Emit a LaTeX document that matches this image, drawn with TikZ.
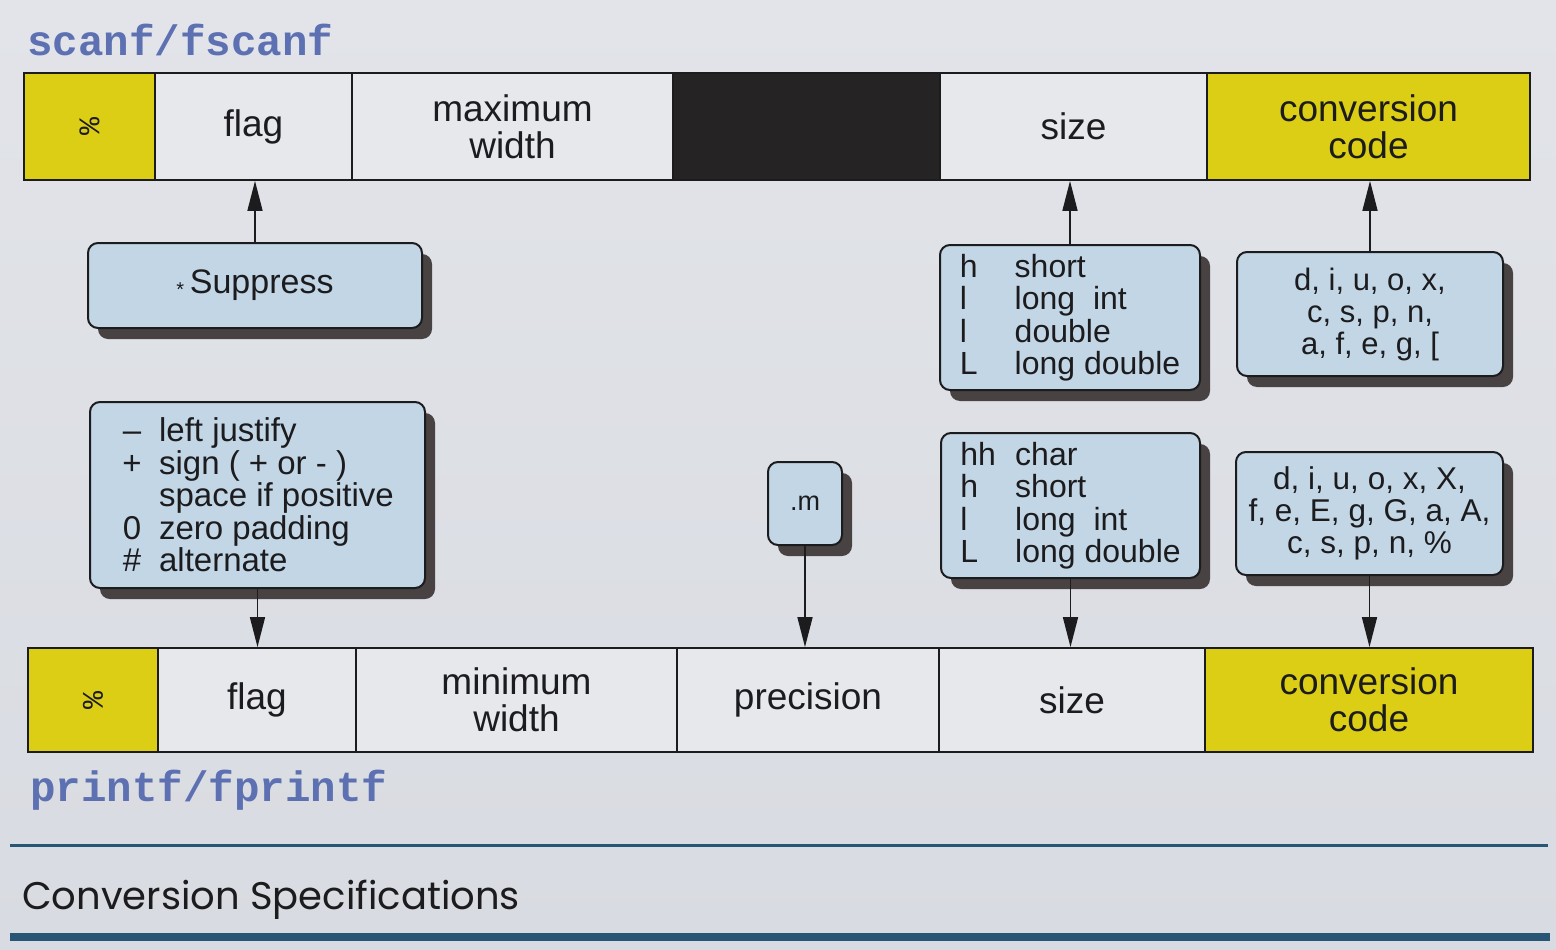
\documentclass[tikz,border=0pt]{standalone}
\usepackage{fontspec}
\setmainfont{Liberation Sans}
\newfontfamily\codefont{Liberation Mono}
\newfontfamily\titlefont{Poppins}
\usetikzlibrary{arrows.meta,shadows}

\definecolor{page}{RGB}{216,219,225}
\definecolor{pagetop}{RGB}{226,228,233}
\definecolor{cellbg}{RGB}{231,232,236}
\definecolor{hilite}{RGB}{220,206,20}
\definecolor{blackcell}{RGB}{38,35,37}
\definecolor{boxbg}{RGB}{194,214,230}
\definecolor{shade}{RGB}{72,66,66}
\definecolor{codeblue}{RGB}{92,112,178}
\definecolor{rulecol}{RGB}{40,86,116}
\definecolor{ink}{RGB}{28,28,30}

\newcommand{\pct}{{\codefont\fontsize{30}{30}\selectfont\rotatebox{90}{\%}}}
\newcommand{\lbl}[1]{\makebox[55pt][l]{#1}}
\newcommand{\sym}[1]{\makebox[22pt][c]{#1}\hspace{16pt}}

\tikzset{
  cell/.style={draw=ink, line width=1.8pt, fill=cellbg, inner sep=0pt,
    align=center, text=ink, font=\fontsize{37}{37}\selectfont},
  hicell/.style={cell, fill=hilite},
  callout/.style={draw=ink, line width=2pt, fill=boxbg, rounded corners=10pt,
    inner sep=0pt, text=ink, font=\fontsize{32}{32.5}\selectfont,
    drop shadow={shadow xshift=10pt, shadow yshift=-11pt, fill=shade, opacity=1}},
  conn/.style={draw=ink, line width=1.6pt, -{Triangle[length=30pt,width=15pt]}},
  codelabel/.style={anchor=west, inner sep=0pt, text=codeblue,
    font=\codefont\bfseries\fontsize{42.5}{42.5}\selectfont},
}

\begin{document}
\begin{tikzpicture}[x=1pt, y=-1pt]
  % page
  \useasboundingbox (0,0) rectangle (1556,950);
  \shade[top color=pagetop, bottom color=page] (0,0) rectangle (1556,950);

  % scanf/fscanf field bar
  \node[codelabel] (scanlbl) at (27,40) {scanf/fscanf};
  \node[hicell, minimum width=131pt, minimum height=107pt] (tpct)  at (89.5,126.5) {\pct};
  \node[cell,   minimum width=197pt, minimum height=107pt] (tflag) at (253.5,126.5) {flag};
  \node[cell,   minimum width=321pt, minimum height=107pt] (tmax)  at (512.5,126.5) {maximum\\width};
  \node[cell, fill=blackcell, minimum width=267pt, minimum height=107pt] (tblk) at (806.5,126.5) {};
  \node[cell,   minimum width=267pt, minimum height=107pt] (tsize) at (1073.5,126.5) {size};
  \node[hicell, minimum width=323pt, minimum height=107pt] (tconv) at (1368.5,126.5) {conversion\\code};

  % printf/fprintf field bar
  \node[hicell, minimum width=130pt, minimum height=104pt] (bpct)  at (93,700) {\pct};
  \node[cell,   minimum width=198pt, minimum height=104pt] (bflag) at (257,700) {flag};
  \node[cell,   minimum width=321pt, minimum height=104pt] (bmin)  at (516.5,700) {minimum\\width};
  \node[cell,   minimum width=262pt, minimum height=104pt] (bprec) at (808,700) {precision};
  \node[cell,   minimum width=266pt, minimum height=104pt] (bsize) at (1072,700) {size};
  \node[hicell, minimum width=328pt, minimum height=104pt] (bconv) at (1369,700) {conversion\\code};
  \node[codelabel] (printlbl) at (30,790) {printf/fprintf};

  % option boxes
  \node[callout, minimum width=334pt, minimum height=85pt, font=\fontsize{34}{34}\selectfont]
    (sup) at (255,285.5) {\raisebox{-3pt}{\fontsize{20}{20}\selectfont *}\,Suppress};
  \node[callout, minimum width=335pt, minimum height=186pt, align=left, font=\fontsize{33}{32.5}\selectfont]
    (flags) at (257.5,495) {\sym{--}left justify\\ \sym{+}sign ( + or - )\\ \sym{}space if positive\\ \sym{0}zero padding\\ \sym{\#}alternate};
  \node[callout, minimum width=74pt, minimum height=83pt, font=\fontsize{27}{28}\selectfont]
    (prec) at (805,503.5) {.m};
  \node[callout, minimum width=260pt, minimum height=145pt, align=left]
    (ssize) at (1070,317.5) {\lbl{h}short\\ \lbl{l}long\ \ int\\ \lbl{l}double\\ \lbl{L}long double};
  \node[callout, minimum width=266pt, minimum height=124pt, align=center, font=\fontsize{31}{32}\selectfont]
    (sconv) at (1370,314) {d, i, u, o, x,\\ c, s, p, n,\\ a, f, e, g, [};
  \node[callout, minimum width=259pt, minimum height=145pt, align=left]
    (psize) at (1070.5,505.5) {\lbl{hh}char\\ \lbl{h}short\\ \lbl{l}long\ \ int\\ \lbl{L}long double};
  \node[callout, minimum width=267pt, minimum height=123pt, align=center, font=\fontsize{31.5}{32}\selectfont]
    (pconv) at (1369.5,513.5) {d, i, u, o, x, X,\\ f, e, E, g, G, a, A,\\ c, s, p, n, \%};

  % connectors
  \draw[conn] (sup.north)   -- (sup.north   |- tflag.south);
  \draw[conn] (ssize.north) -- (ssize.north |- tsize.south);
  \draw[conn] (sconv.north) -- (sconv.north |- tconv.south);
  \draw[conn] (flags.south) -- (flags.south |- bflag.north);
  \draw[conn] (prec.south)  -- (prec.south  |- bprec.north);
  \draw[conn] (psize.south) -- (psize.south |- bsize.north);
  \draw[conn] (pconv.south) -- (pconv.south |- bconv.north);

  % caption and rules
  \draw[rulecol, line width=3pt] (10,845) -- (1548,845);
  \node[anchor=west, inner sep=0pt, text=ink, font=\titlefont\fontsize{38.5}{40}\selectfont]
    (title) at (22,900) {Conversion Specifications};
  \draw[rulecol, line width=8pt] (10,937) -- (1550,937);
\end{tikzpicture}
\end{document}
